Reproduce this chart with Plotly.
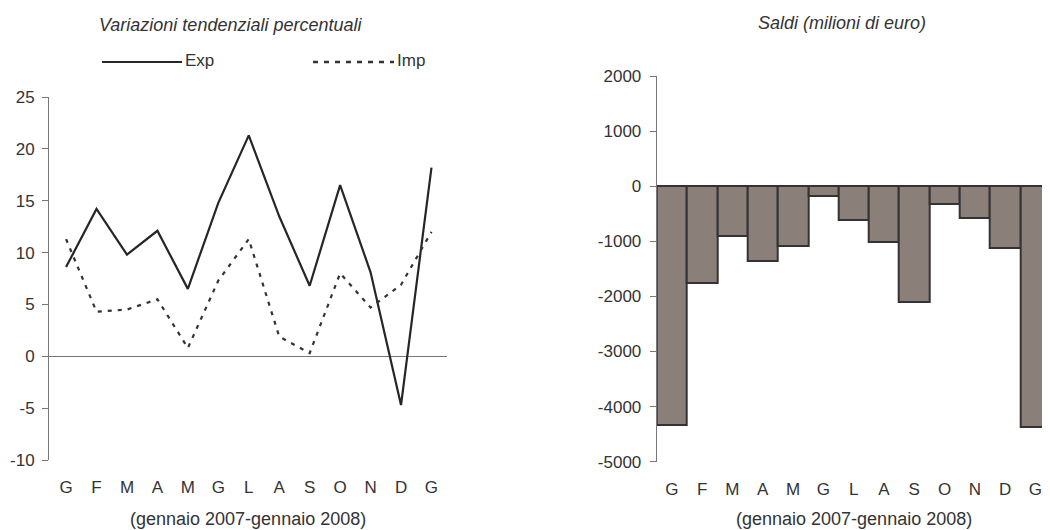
import plotly.graph_objects as go

months = ["G", "F", "M", "A", "M", "G", "L", "A", "S", "O", "N", "D", "G"]
exp_vals = [8.6, 14.2, 9.8, 12.1, 6.5, 14.8, 21.3, 13.5, 6.8, 16.5, 8.1, -4.7, 18.2]
imp_vals = [11.3, 4.3, 4.5, 5.5, 0.8, 7.3, 11.3, 1.9, 0.3, 8.0, 4.7, 6.9, 12.0]
saldi = [-4330, -1750, -900, -1360, -1080, -180, -610, -1010, -2110, -320, -570, -1120, -4370]

y1_tickvals = [-10, -5, 0, 5, 10, 15, 20, 25]
y1_ticktext = ["-10", "-5", "0", "5", "10", "15", "20", "25"]
y2_tickvals = [-5000, -4000, -3000, -2000, -1000, 0, 1000, 2000]
y2_ticktext = ["-5000", "-4000", "-3000", "-2000", "-1000", "0", "1000", "2000"]

# page body has an 8px margin: work in screenshot pixels and shift
OFF = 8
W, H = 1042, 522
FONT = "Liberation Sans, Arial, sans-serif"
TXT = "#333333"
AX = "#777777"


def px(x):
    return (x - OFF) / W


def py(y):
    return 1 - (y - OFF) / H


idx = list(range(len(months)))

fig = go.Figure()
fig.add_trace(go.Scatter(x=idx, y=exp_vals, mode="lines", name="Exp",
                         line=dict(color="#262626", width=2.2), xaxis="x", yaxis="y"))
fig.add_trace(go.Scatter(x=idx, y=imp_vals, mode="lines", name="Imp",
                         line=dict(color="#333333", width=2.2, dash="4px,6px"), xaxis="x", yaxis="y"))
fig.add_trace(go.Bar(x=idx, y=saldi, name="Saldi",
                     marker=dict(color="#8b7f7a", line=dict(color="#333333", width=2)),
                     xaxis="x2", yaxis="y2"))

fig.update_layout(
    width=W, height=H,
    margin=dict(l=0, r=0, t=0, b=0, pad=0, autoexpand=False),
    paper_bgcolor="white", plot_bgcolor="white",
    showlegend=False,
    bargap=0,
    font=dict(family=FONT, size=17, color=TXT),
    xaxis=dict(domain=[px(49), px(447)], range=[-0.56, 12.51], tickmode="array", tickvals=idx, ticktext=months,
               showgrid=False, zeroline=False, showline=False, ticks="", ticklabelstandoff=15,
               tickfont=dict(size=17), anchor="y", automargin=False),
    yaxis=dict(domain=[py(460), py(97)], range=[-10, 25], tickmode="array", tickvals=y1_tickvals,
               ticktext=y1_ticktext, showgrid=False,
               zeroline=True, zerolinecolor=AX, zerolinewidth=1,
               showline=True, linecolor=AX, linewidth=1, ticks="outside", ticklen=6, tickcolor=AX,
               ticklabelstandoff=4, tickfont=dict(size=17), anchor="x", automargin=False),
    xaxis2=dict(domain=[px(656.7), 1], range=[-0.5, 12.48], tickmode="array", tickvals=idx, ticktext=months,
                showgrid=False, zeroline=False, showline=False, ticks="", ticklabelstandoff=15,
                tickfont=dict(size=17), anchor="y2", automargin=False),
    yaxis2=dict(domain=[py(461.7), py(76)], range=[-5000, 2000], tickmode="array", tickvals=y2_tickvals,
                ticktext=y2_ticktext, showgrid=False,
                zeroline=True, zerolinecolor=AX, zerolinewidth=1,
                showline=True, linecolor=AX, linewidth=1, ticks="outside", ticklen=6, tickcolor=AX,
                ticklabelstandoff=5, tickfont=dict(size=17), anchor="x2", automargin=False),
)

annots = [
    dict(text="<i>Variazioni tendenziali percentuali</i>", x=px(230), y=py(25), size=18),
    dict(text="<i>Saldi (milioni di euro)</i>", x=px(842), y=py(23), size=18),
    dict(text="(gennaio 2007-gennaio 2008)", x=px(248), y=py(519), size=18),
    dict(text="(gennaio 2007-gennaio 2008)", x=px(854), y=py(519), size=18),
]
for a in annots:
    fig.add_annotation(text=a["text"], x=a["x"], y=a["y"], xref="paper", yref="paper",
                       xanchor="center", yanchor="middle", showarrow=False,
                       font=dict(size=a["size"], color=TXT, family=FONT))

# legend samples
fig.add_shape(type="line", xref="paper", yref="paper", x0=px(102), x1=px(182), y0=py(62), y1=py(62),
              line=dict(color="#262626", width=2))
fig.add_shape(type="line", xref="paper", yref="paper", x0=px(313), x1=px(394), y0=py(62), y1=py(62),
              line=dict(color="#333333", width=2.5, dash="5px,6px"))
fig.add_annotation(text="Exp", x=px(183), y=py(61), xref="paper", yref="paper", xanchor="left", yanchor="middle",
                   showarrow=False, font=dict(size=17, color=TXT, family=FONT))
fig.add_annotation(text="Imp", x=px(395), y=py(61), xref="paper", yref="paper", xanchor="left", yanchor="middle",
                   showarrow=False, font=dict(size=17, color=TXT, family=FONT))

fig.write_html("out.html")
